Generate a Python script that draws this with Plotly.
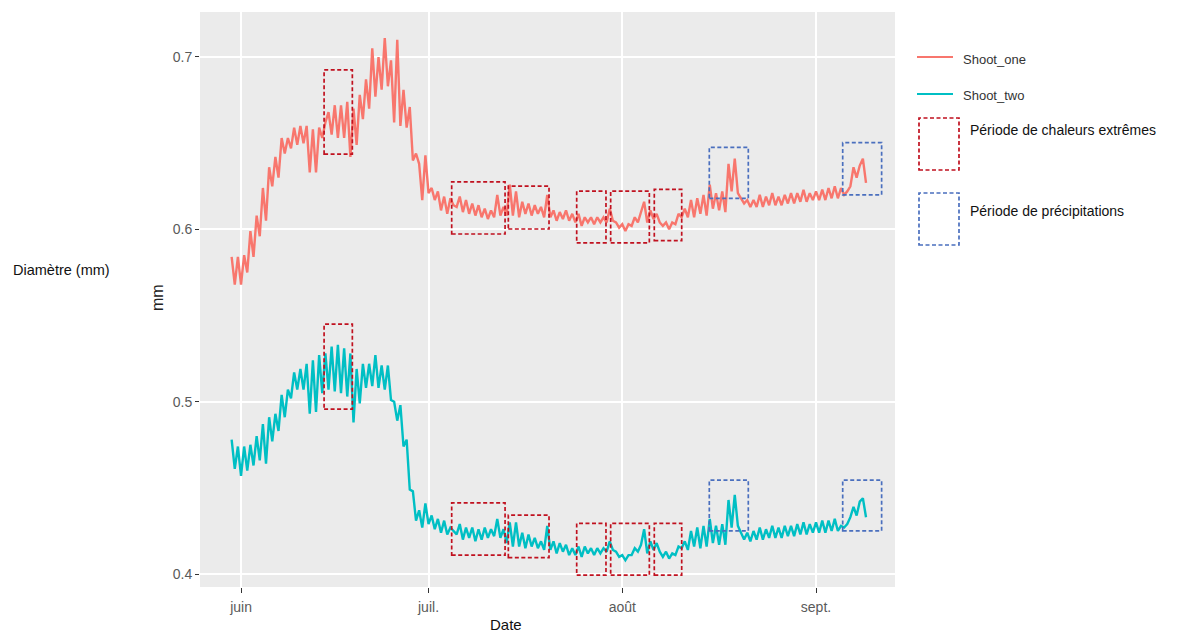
import pandas as pd
import plotly.graph_objects as go

# ---------------- data ----------------
start_time = "2017-05-30 12:00"
step = "12h"

shoot_one = [
    0.584, 0.568, 0.584, 0.568, 0.585, 0.575, 0.599, 0.584, 0.608, 0.596,
    0.624, 0.605, 0.636, 0.625, 0.642, 0.630, 0.653, 0.644, 0.653, 0.647,
    0.659, 0.649, 0.660, 0.650, 0.660, 0.633, 0.658, 0.633, 0.659, 0.653,
    0.662, 0.668, 0.655, 0.672, 0.653, 0.672, 0.653, 0.674, 0.642, 0.670,
    0.649, 0.678, 0.664, 0.687, 0.670, 0.705, 0.677, 0.700, 0.681, 0.711,
    0.683, 0.698, 0.662, 0.710, 0.660, 0.681, 0.659, 0.671, 0.640, 0.644,
    0.638, 0.617, 0.643, 0.621, 0.624, 0.617, 0.622, 0.611, 0.619, 0.609,
    0.618, 0.614, 0.613, 0.619, 0.610, 0.617, 0.609, 0.615, 0.608, 0.614,
    0.607, 0.612, 0.606, 0.611, 0.607, 0.620, 0.608, 0.613, 0.608, 0.626,
    0.608, 0.622, 0.607, 0.616, 0.609, 0.615, 0.608, 0.614, 0.609, 0.613,
    0.607, 0.620, 0.607, 0.611, 0.605, 0.610, 0.606, 0.611, 0.605, 0.609,
    0.604, 0.609, 0.602, 0.607, 0.604, 0.607, 0.603, 0.607, 0.604, 0.607,
    0.604, 0.612, 0.605, 0.604, 0.601, 0.603, 0.599, 0.603, 0.602, 0.607,
    0.604, 0.610, 0.616, 0.604, 0.611, 0.606, 0.609, 0.604, 0.602, 0.604,
    0.600, 0.604, 0.603, 0.609, 0.607, 0.612, 0.607, 0.617, 0.607, 0.618,
    0.609, 0.620, 0.608, 0.626, 0.612, 0.621, 0.611, 0.622, 0.610, 0.638,
    0.622, 0.641, 0.621, 0.618, 0.615, 0.617, 0.613, 0.617, 0.613, 0.620,
    0.613, 0.619, 0.614, 0.621, 0.614, 0.619, 0.614, 0.620, 0.615, 0.621,
    0.615, 0.621, 0.616, 0.623, 0.616, 0.621, 0.617, 0.622, 0.617, 0.623,
    0.617, 0.624, 0.618, 0.625, 0.618, 0.624, 0.620, 0.622, 0.625, 0.636,
    0.630, 0.637, 0.641, 0.627,
]

shoot_two = [
    0.478, 0.461, 0.474, 0.457, 0.474, 0.460, 0.475, 0.463, 0.480, 0.466,
    0.487, 0.464, 0.491, 0.477, 0.493, 0.483, 0.504, 0.491, 0.507, 0.502,
    0.517, 0.507, 0.519, 0.507, 0.522, 0.493, 0.524, 0.494, 0.527, 0.505,
    0.528, 0.507, 0.532, 0.506, 0.533, 0.505, 0.531, 0.503, 0.528, 0.488,
    0.519, 0.499, 0.522, 0.508, 0.522, 0.509, 0.527, 0.508, 0.521, 0.507,
    0.521, 0.501, 0.500, 0.489, 0.498, 0.474, 0.478, 0.449, 0.448, 0.431,
    0.437, 0.427, 0.441, 0.429, 0.434, 0.426, 0.432, 0.424, 0.431, 0.423,
    0.427, 0.425, 0.423, 0.429, 0.420, 0.427, 0.421, 0.427, 0.419, 0.426,
    0.420, 0.427, 0.421, 0.426, 0.422, 0.432, 0.421, 0.426, 0.418, 0.430,
    0.416, 0.430, 0.416, 0.424, 0.415, 0.423, 0.416, 0.421, 0.415, 0.419,
    0.414, 0.428, 0.414, 0.419, 0.412, 0.418, 0.413, 0.417, 0.411, 0.415,
    0.411, 0.416, 0.410, 0.416, 0.412, 0.415, 0.411, 0.415, 0.412, 0.415,
    0.413, 0.419, 0.414, 0.413, 0.410, 0.411, 0.408, 0.411, 0.411, 0.415,
    0.413, 0.417, 0.426, 0.412, 0.419, 0.414, 0.418, 0.413, 0.410, 0.413,
    0.409, 0.412, 0.411, 0.416, 0.415, 0.419, 0.414, 0.425, 0.416, 0.427,
    0.415, 0.428, 0.416, 0.432, 0.418, 0.428, 0.417, 0.429, 0.417, 0.443,
    0.427, 0.446, 0.428, 0.424, 0.420, 0.424, 0.419, 0.425, 0.420, 0.427,
    0.420, 0.426, 0.421, 0.428, 0.421, 0.427, 0.421, 0.428, 0.422, 0.428,
    0.422, 0.429, 0.423, 0.430, 0.423, 0.429, 0.424, 0.430, 0.424, 0.431,
    0.424, 0.431, 0.425, 0.432, 0.425, 0.428, 0.427, 0.429, 0.433, 0.439,
    0.434, 0.442, 0.444, 0.433,
]

series_names = ["Shoot_one", "Shoot_two"]

# month ticks
tick_vals = ["2017-06-01", "2017-07-01", "2017-08-01", "2017-09-01"]
tick_text = ["juin", "juil.", "août", "sept."]
y_ticks = [0.4, 0.5, 0.6, 0.7]

# heat periods (red boxes): start, end, top-series y range, bottom-series y range
heat_start = ["2017-06-14 07:00", "2017-07-04 17:00", "2017-07-13 18:30",
              "2017-07-24 17:00", "2017-07-30 03:30", "2017-08-06 03:00"]
heat_end = ["2017-06-18 19:30", "2017-07-13 06:00", "2017-07-20 06:45",
            "2017-07-29 09:30", "2017-08-05 08:00", "2017-08-10 12:15"]
heat_top_lo = [0.6437, 0.5973, 0.6002, 0.5922, 0.5922, 0.5934]
heat_top_hi = [0.6925, 0.6276, 0.6251, 0.6222, 0.6222, 0.6232]
heat_bot_lo = [0.4957, 0.4110, 0.4096, 0.3994, 0.3994, 0.3994]
heat_bot_hi = [0.5450, 0.4413, 0.4342, 0.4294, 0.4294, 0.4294]

# rain periods (blue boxes)
rain_start = ["2017-08-14 22:15", "2017-09-05 06:30"]
rain_end = ["2017-08-21 04:00", "2017-09-11 12:00"]
rain_top_lo = [0.6180, 0.6200]
rain_top_hi = [0.6476, 0.6503]
rain_bot_lo = [0.4251, 0.4251]
rain_bot_hi = [0.4545, 0.4545]

# ---------------- figure ----------------
W, H = 1180, 632
L, R, T, B = 200, 895, 12, 587  # panel in pixels


def px(x):
    return (x - L) / (R - L)


def py(y):
    return (B - y) / (B - T)


c_one = "#F8766D"
c_two = "#00BFC4"
c_heat = "#C0111F"
c_rain = "#4A6FBE"
dash = "4px,2.5px"

t1 = pd.date_range(start_time, periods=len(shoot_one), freq=step)
t2 = pd.date_range(start_time, periods=len(shoot_two), freq=step)

fig = go.Figure()
fig.add_trace(go.Scatter(x=t1, y=shoot_one, mode="lines", name=series_names[0],
                         line=dict(color=c_one, width=2.4)))
fig.add_trace(go.Scatter(x=t2, y=shoot_two, mode="lines", name=series_names[1],
                         line=dict(color=c_two, width=2.4)))

for s, e, lo, hi in zip(heat_start + heat_start, heat_end + heat_end,
                        heat_top_lo + heat_bot_lo, heat_top_hi + heat_bot_hi):
    fig.add_shape(type="rect", xref="x", yref="y", x0=s, x1=e, y0=lo, y1=hi,
                  line=dict(color=c_heat, width=1.7, dash=dash))
for s, e, lo, hi in zip(rain_start + rain_start, rain_end + rain_end,
                        rain_top_lo + rain_bot_lo, rain_top_hi + rain_bot_hi):
    fig.add_shape(type="rect", xref="x", yref="y", x0=s, x1=e, y0=lo, y1=hi,
                  line=dict(color=c_rain, width=1.7, dash=dash))

# legend (drawn manually, as in the picture)
leg = [(series_names[0], c_one, 57, 59), (series_names[1], c_two, 94, 95)]
for name, col, yy, ty in leg:
    fig.add_shape(type="line", xref="paper", yref="paper",
                  x0=px(917), x1=px(953), y0=py(yy), y1=py(yy),
                  line=dict(color=col, width=2))
    fig.add_annotation(x=px(961), y=py(ty), xref="paper", yref="paper",
                       text=name, showarrow=False, xanchor="left", yanchor="middle",
                       font=dict(size=13, color="#333333"))

boxes = [("Période de chaleurs extrêmes", c_heat, 118, 170, 130),
         ("Période de précipitations", c_rain, 193, 245, 211)]
for text, col, y0, y1, ty in boxes:
    fig.add_shape(type="rect", xref="paper", yref="paper",
                  x0=px(919), x1=px(959), y0=py(y1), y1=py(y0),
                  line=dict(color=col, width=1.7, dash=dash))
    fig.add_annotation(x=px(968), y=py(ty), xref="paper", yref="paper",
                       text=text, showarrow=False, xanchor="left", yanchor="middle",
                       font=dict(size=14, color="#111111"))

# axis titles / labels
fig.add_annotation(x=px(157), y=py(298), xref="paper", yref="paper", text="mm",
                   textangle=-90, showarrow=False, xanchor="center", yanchor="middle",
                   font=dict(size=16, color="#222222"))
fig.add_annotation(x=px(11), y=py(270), xref="paper", yref="paper", text="Diamètre (mm)",
                   showarrow=False, xanchor="left", yanchor="middle",
                   font=dict(size=14.5, color="#111111"))
fig.add_annotation(x=px(506), y=py(625), xref="paper", yref="paper", text="Date",
                   showarrow=False, xanchor="center", yanchor="middle",
                   font=dict(size=15, color="#111111"))

fig.update_layout(
    width=W, height=H,
    margin=dict(l=L, r=W - R, t=T, b=H - B),
    paper_bgcolor="white",
    plot_bgcolor="#EBEBEB",
    showlegend=False,
    font=dict(family="Liberation Sans, Arial, sans-serif"),
)
fig.update_xaxes(
    range=["2017-05-25 10:30", "2017-09-13 15:20"],
    tickvals=tick_vals, ticktext=tick_text,
    showgrid=True, gridcolor="white", gridwidth=1.5,
    zeroline=False, showline=False,
    ticks="outside", ticklen=5, tickwidth=1.2, tickcolor="#333333",
    ticklabelstandoff=2,
    tickfont=dict(size=14, color="#5A5A5A"),
)
fig.update_yaxes(
    range=[0.3925, 0.7261],
    tickvals=y_ticks, ticktext=[str(v) for v in y_ticks],
    showgrid=True, gridcolor="white", gridwidth=1.5,
    zeroline=False, showline=False,
    ticks="outside", ticklen=4, tickwidth=1.2, tickcolor="#333333",
    tickfont=dict(size=14, color="#5A5A5A"),
)

fig.write_html("out.html")
